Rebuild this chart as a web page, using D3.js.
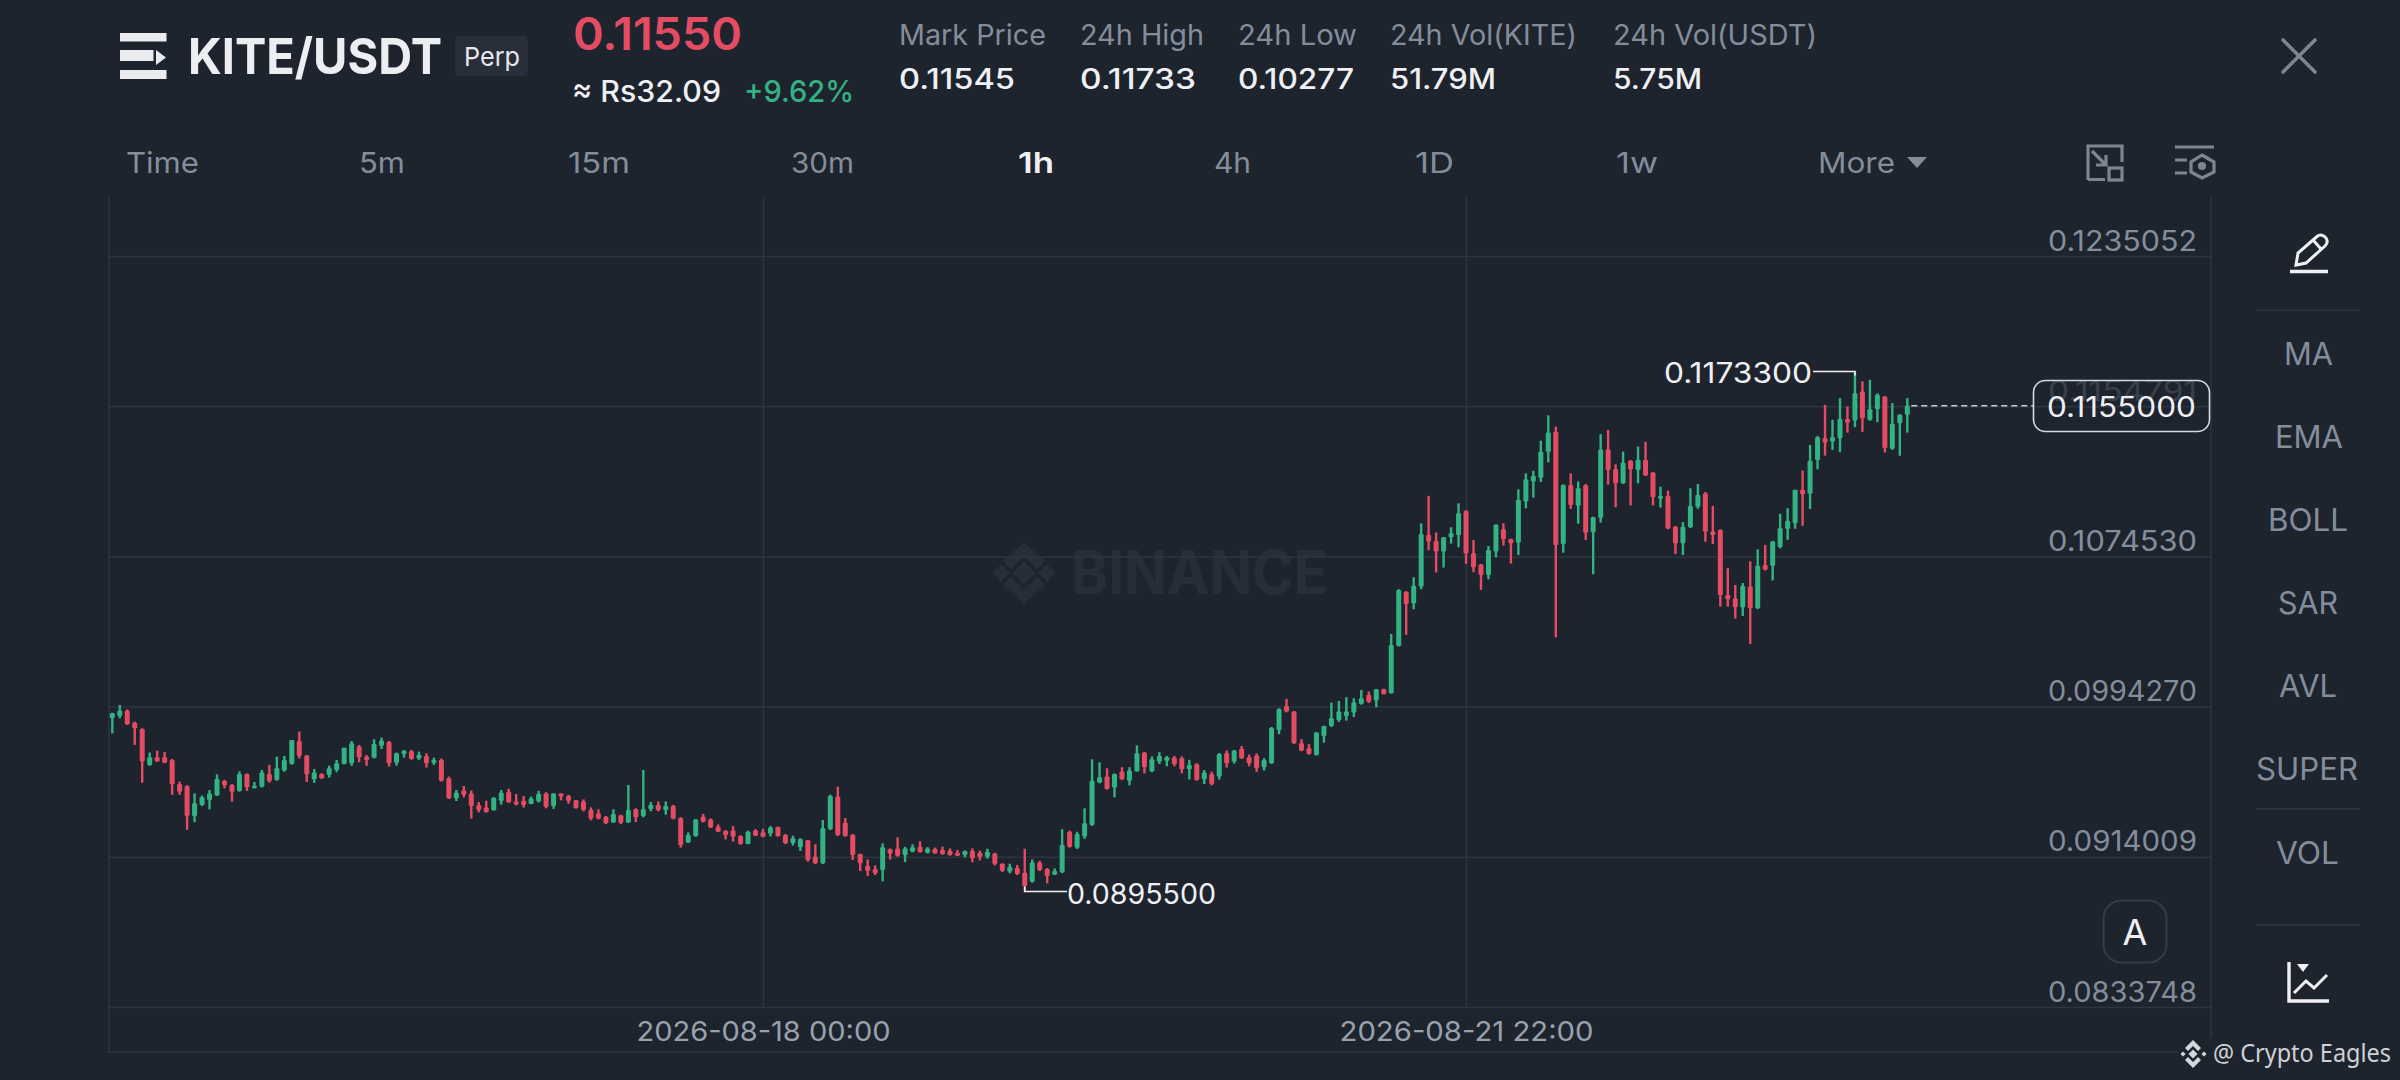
<!DOCTYPE html>
<html><head><meta charset="utf-8">
<script src="https://d3js.org/d3.v7.min.js"></script>
<style>html,body{margin:0;padding:0;background:#1e242e;overflow:hidden}svg{display:block}</style>
</head><body><svg id="c" width="2400" height="1080"></svg>
<script>
// ---------- data ----------
const opens=[
0.09882,0.09893,0.09921,0.09857,0.09823,0.09631,0.09672,0.09672,0.09658,0.09529,
0.09519,0.09358,0.09417,0.09444,0.09467,0.09545,0.09524,0.09492,0.09583,0.09506,
0.09515,0.09583,0.09551,0.09601,0.09636,0.09759,0.09682,0.09554,0.09583,0.09577,
0.09604,0.09636,0.09640,0.09729,0.09675,0.09670,0.09734,0.09754,0.09643,0.09690,
0.09704,0.09666,0.09679,0.09643,0.09658,0.09560,0.09453,0.09494,0.09479,0.09415,
0.09403,0.09389,0.09440,0.09487,0.09435,0.09440,0.09422,0.09437,0.09479,0.09412,
0.09478,0.09465,0.09442,0.09435,0.09390,0.09372,0.09354,0.09324,0.09362,0.09324,
0.09394,0.09358,0.09395,0.09417,0.09390,0.09413,0.09347,0.09217,0.09251,0.09354,
0.09340,0.09301,0.09278,0.09280,0.09251,0.09208,0.09280,0.09271,0.09265,0.09299,
0.09256,0.09212,0.09191,0.09228,0.09141,0.09105,0.09287,0.09461,0.09322,0.09258,
0.09155,0.09091,0.09073,0.09069,0.09180,0.09185,0.09150,0.09167,0.09194,0.09162,
0.09182,0.09176,0.09173,0.09162,0.09150,0.09171,0.09162,0.09141,0.09158,0.09103,
0.09061,0.09080,0.09055,0.09007,0.09109,0.09075,0.09046,0.09057,0.09274,0.09189,
0.09248,0.09310,0.09537,0.09569,0.09510,0.09595,0.09547,0.09597,0.09697,0.09597,
0.09649,0.09654,0.09670,0.09667,0.09608,0.09635,0.09554,0.09583,0.09569,0.09693,
0.09649,0.09718,0.09672,0.09681,0.09619,0.09640,0.09818,0.09946,0.09916,0.09747,
0.09720,0.09684,0.09786,0.09839,0.09871,0.09893,0.09911,0.09957,0.10005,0.09975,
0.10035,0.10014,0.10267,0.10557,0.10495,0.10584,0.10860,0.10828,0.10771,0.10848,
0.10860,0.10988,0.10762,0.10702,0.10646,0.10771,0.10890,0.10837,0.10819,0.11038,
0.11145,0.11166,0.11305,0.11412,0.10812,0.11127,0.11016,0.11125,0.10874,0.10952,
0.11317,0.11211,0.11136,0.11257,0.11207,0.11260,0.11193,0.11054,0.11068,0.10904,
0.10815,0.10901,0.11011,0.11082,0.10878,0.10886,0.10539,0.10521,0.10473,0.10584,
0.10468,0.10700,0.10695,0.10795,0.10893,0.10923,0.11101,0.11080,0.11261,0.11377,
0.11359,0.11377,0.11479,0.11471,0.11626,0.11475,0.11532,0.11600,0.11320,0.11457,
0.11502];
const highs=[
0.09910,0.09951,0.09928,0.09862,0.09827,0.09697,0.09707,0.09700,0.09663,0.09542,
0.09522,0.09479,0.09467,0.09497,0.09581,0.09551,0.09529,0.09597,0.09586,0.09540,
0.09604,0.09631,0.09675,0.09679,0.09764,0.09809,0.09684,0.09609,0.09586,0.09627,
0.09658,0.09723,0.09759,0.09738,0.09684,0.09768,0.09777,0.09759,0.09697,0.09711,
0.09711,0.09702,0.09693,0.09670,0.09665,0.09569,0.09497,0.09519,0.09494,0.09433,
0.09440,0.09458,0.09497,0.09504,0.09476,0.09465,0.09462,0.09492,0.09485,0.09479,
0.09479,0.09471,0.09444,0.09447,0.09404,0.09394,0.09358,0.09394,0.09365,0.09524,
0.09399,0.09604,0.09433,0.09436,0.09436,0.09417,0.09351,0.09271,0.09342,0.09369,
0.09345,0.09313,0.09283,0.09304,0.09255,0.09280,0.09288,0.09290,0.09304,0.09301,
0.09262,0.09253,0.09239,0.09230,0.09207,0.09337,0.09472,0.09515,0.09347,0.09262,
0.09157,0.09126,0.09094,0.09212,0.09185,0.09244,0.09194,0.09207,0.09223,0.09192,
0.09189,0.09194,0.09185,0.09176,0.09174,0.09185,0.09173,0.09183,0.09162,0.09105,
0.09103,0.09096,0.09183,0.09126,0.09119,0.09080,0.09078,0.09287,0.09280,0.09274,
0.09399,0.09661,0.09645,0.09613,0.09586,0.09619,0.09619,0.09736,0.09700,0.09676,
0.09699,0.09679,0.09679,0.09677,0.09658,0.09640,0.09604,0.09595,0.09695,0.09708,
0.09711,0.09732,0.09686,0.09693,0.09667,0.09834,0.09934,0.09984,0.09919,0.09768,
0.09743,0.09806,0.09841,0.09964,0.09973,0.09993,0.09987,0.10032,0.10023,0.10037,
0.10039,0.10331,0.10570,0.10559,0.10634,0.10922,0.11069,0.10873,0.10848,0.10901,
0.11029,0.10992,0.10833,0.10705,0.10801,0.10917,0.10922,0.10840,0.11104,0.11189,
0.11203,0.11364,0.11499,0.11439,0.11130,0.11189,0.11146,0.11132,0.10958,0.11398,
0.11421,0.11237,0.11305,0.11260,0.11332,0.11358,0.11195,0.11118,0.11097,0.10908,
0.10929,0.11109,0.11132,0.11089,0.11015,0.10890,0.10682,0.10593,0.10603,0.10719,
0.10783,0.10807,0.10828,0.10973,0.11003,0.11101,0.11204,0.11341,0.11388,0.11555,
0.11475,0.11591,0.11546,0.11733,0.11680,0.11689,0.11617,0.11603,0.11564,0.11505,
0.11591];
const lows=[
0.09800,0.09880,0.09845,0.09738,0.09536,0.09626,0.09649,0.09640,0.09471,0.09471,
0.09284,0.09325,0.09412,0.09394,0.09465,0.09506,0.09435,0.09488,0.09492,0.09506,
0.09510,0.09536,0.09547,0.09595,0.09633,0.09665,0.09540,0.09535,0.09556,0.09563,
0.09592,0.09634,0.09626,0.09645,0.09626,0.09666,0.09716,0.09622,0.09627,0.09670,
0.09659,0.09658,0.09617,0.09631,0.09542,0.09449,0.09438,0.09458,0.09344,0.09378,
0.09376,0.09387,0.09419,0.09428,0.09415,0.09403,0.09421,0.09430,0.09399,0.09396,
0.09442,0.09424,0.09398,0.09383,0.09335,0.09340,0.09315,0.09322,0.09315,0.09321,
0.09326,0.09351,0.09383,0.09383,0.09365,0.09340,0.09189,0.09214,0.09247,0.09324,
0.09294,0.09272,0.09233,0.09221,0.09205,0.09207,0.09251,0.09244,0.09249,0.09247,
0.09208,0.09201,0.09171,0.09114,0.09101,0.09101,0.09283,0.09251,0.09247,0.09123,
0.09064,0.09037,0.09043,0.09009,0.09125,0.09141,0.09112,0.09164,0.09162,0.09158,
0.09157,0.09151,0.09146,0.09144,0.09137,0.09110,0.09121,0.09130,0.09094,0.09059,
0.09052,0.09043,0.08955,0.09002,0.09064,0.08998,0.09043,0.09053,0.09189,0.09182,
0.09236,0.09305,0.09533,0.09499,0.09458,0.09551,0.09522,0.09595,0.09586,0.09592,
0.09636,0.09624,0.09624,0.09586,0.09553,0.09547,0.09529,0.09522,0.09553,0.09617,
0.09638,0.09663,0.09624,0.09594,0.09601,0.09636,0.09795,0.09912,0.09743,0.09704,
0.09686,0.09681,0.09750,0.09834,0.09861,0.09868,0.09887,0.09953,0.09962,0.09939,
0.10007,0.10012,0.10264,0.10326,0.10463,0.10570,0.10778,0.10659,0.10686,0.10814,
0.10794,0.10705,0.10661,0.10566,0.10623,0.10741,0.10803,0.10707,0.10753,0.11002,
0.11059,0.11143,0.11248,0.10313,0.10765,0.10999,0.10920,0.10833,0.10650,0.10926,
0.11129,0.11008,0.11132,0.11018,0.11136,0.11175,0.11018,0.11006,0.10890,0.10758,
0.10753,0.10897,0.11000,0.10824,0.10812,0.10477,0.10477,0.10413,0.10427,0.10277,
0.10464,0.10670,0.10617,0.10788,0.10834,0.10893,0.10909,0.10998,0.11211,0.11284,
0.11315,0.11302,0.11407,0.11436,0.11411,0.11470,0.11463,0.11300,0.11315,0.11283,
0.11407];
const closes=[
0.09907,0.09921,0.09848,0.09827,0.09649,0.09672,0.09649,0.09643,0.09528,0.09488,
0.09360,0.09426,0.09458,0.09479,0.09556,0.09522,0.09488,0.09583,0.09512,0.09519,
0.09590,0.09545,0.09613,0.09658,0.09764,0.09679,0.09581,0.09590,0.09560,0.09613,
0.09640,0.09723,0.09747,0.09672,0.09658,0.09743,0.09761,0.09640,0.09693,0.09707,
0.09663,0.09684,0.09640,0.09658,0.09547,0.09453,0.09483,0.09471,0.09412,0.09390,
0.09380,0.09456,0.09483,0.09431,0.09421,0.09417,0.09451,0.09476,0.09408,0.09478,
0.09462,0.09440,0.09399,0.09390,0.09345,0.09345,0.09319,0.09369,0.09322,0.09390,
0.09351,0.09394,0.09417,0.09390,0.09411,0.09344,0.09203,0.09256,0.09340,0.09328,
0.09297,0.09274,0.09256,0.09247,0.09208,0.09274,0.09253,0.09247,0.09297,0.09251,
0.09212,0.09239,0.09235,0.09123,0.09105,0.09292,0.09465,0.09256,0.09251,0.09150,
0.09105,0.09066,0.09052,0.09191,0.09158,0.09146,0.09185,0.09191,0.09166,0.09185,
0.09158,0.09155,0.09150,0.09146,0.09171,0.09132,0.09141,0.09166,0.09101,0.09066,
0.09087,0.09048,0.08984,0.09109,0.09069,0.09037,0.09064,0.09203,0.09194,0.09262,
0.09319,0.09547,0.09565,0.09503,0.09583,0.09554,0.09601,0.09693,0.09619,0.09661,
0.09679,0.09672,0.09636,0.09608,0.09631,0.09551,0.09590,0.09529,0.09690,0.09640,
0.09708,0.09667,0.09640,0.09613,0.09658,0.09829,0.09930,0.09916,0.09747,0.09708,
0.09690,0.09804,0.09839,0.09880,0.09916,0.09916,0.09964,0.09987,0.09969,0.10035,
0.10010,0.10272,0.10566,0.10491,0.10588,0.10865,0.10825,0.10771,0.10848,0.10869,
0.10976,0.10762,0.10687,0.10646,0.10780,0.10914,0.10837,0.10815,0.11047,0.11157,
0.11175,0.11305,0.11408,0.10806,0.11127,0.11020,0.11109,0.10872,0.10954,0.11317,
0.11207,0.11136,0.11246,0.11211,0.11260,0.11178,0.11061,0.11068,0.10894,0.10815,
0.10904,0.11015,0.11073,0.10878,0.10860,0.10539,0.10516,0.10473,0.10587,0.10468,
0.10696,0.10674,0.10825,0.10896,0.10935,0.11101,0.11078,0.11256,0.11382,0.11354,
0.11382,0.11479,0.11461,0.11617,0.11484,0.11532,0.11609,0.11324,0.11454,0.11502,
0.11550];
const priceTicks=[0.1235052,0.1154791,0.1074530,0.0994270,0.0914009,0.0833748];
const dateTicks=["2026-08-18T00:00:00Z","2026-08-21T22:00:00Z"];
const firstCandle="2026-08-14T09:00:00Z";
const lastPrice=0.1155, lowPrice=0.08955, highPrice=0.11733;
const timeframes=["Time","5m","15m","30m","1h","4h","1D","1w","More"];
const indicators=["MA","EMA","BOLL","SAR","AVL","SUPER","VOL"];
const statLabels=["Mark Price","24h High","24h Low","24h Vol(KITE)","24h Vol(USDT)"];
const statValues=["0.11545","0.11733","0.10277","51.79M","5.75M"];

// ---------- setup ----------
const BG="#1e242e",GRID="#2f3540",GREY="#848d9b",WHITE="#eef0f3",UP="#33b283",DOWN="#e34c63";
const FONT="Inter, Lato, sans-serif";
const svg=d3.select("#c");
const t0=new Date(firstCandle);
const times=opens.map((_,i)=>d3.utcHour.offset(t0,i));
const x=d3.scaleUtc().domain([times[0],times[times.length-1]]).range([112.3,1907.3]);
const y=d3.scaleLinear().domain([priceTicks[5],priceTicks[0]]).range([1007,256]);
const PL=109,PR=2211,PT=197,PB=1052;

function txt(s,x0,x1,base,size,color,weight,font){
  return svg.append("text").text(s).attr("x",x0).attr("y",base)
   .attr("textLength",x1-x0).attr("lengthAdjust","spacingAndGlyphs")
   .attr("font-size",size).attr("fill",color).attr("font-weight",weight||400)
   .attr("font-family",font||FONT);
}

// frame
svg.append("path").attr("d",`M${PL} ${PT}V${PB}H${PR}M${PR} ${PT}V${PB}`).attr("stroke",GRID).attr("stroke-width",1.5).attr("fill","none");

// watermark
const wm=svg.append("g").attr("fill","#282e39");
[[1024,573,9],[1001,573,7],[1047,573,7]].forEach(([a,b,r])=>{
  wm.append("path").attr("d",`M${a} ${b-r*1.25}L${a+r*1.25} ${b}L${a} ${b+r*1.25}L${a-r*1.25} ${b}Z`);
});
wm.append("path").attr("d","M1024 542L1045 561L1037 569L1024 557L1011 569L1003 561Z M1024 604L1003 585L1011 577L1024 589L1037 577L1045 585Z");
txt("BINANCE",1071,1328,594,60,"#282e39",700);

// axes
const yAxis=d3.axisLeft(y).tickValues(priceTicks).tickSize(PR-PL).tickFormat(d3.format(".7f"));
const ya=svg.append("g").attr("transform",`translate(${PR},0)`).call(yAxis);
ya.select(".domain").remove();
ya.selectAll("line").attr("stroke",GRID).attr("stroke-width",1.5);
ya.selectAll("text").attr("x",-14).attr("dy",0).attr("y",-6).attr("text-anchor","end")
  .attr("font-size",28).attr("font-family",FONT).attr("fill",GREY)
  .attr("textLength",149).attr("lengthAdjust","spacingAndGlyphs");
ya.selectAll(".tick").filter(d=>d===priceTicks[1]).select("text").attr("fill","#39404c");

const fmtDate=d3.utcFormat("%Y-%m-%d %H:%M");
const xAxis=d3.axisBottom(x).tickValues(dateTicks.map(d=>new Date(d))).tickSize(1007-PT).tickFormat(fmtDate);
const xa=svg.append("g").attr("transform",`translate(0,${PT})`).call(xAxis);
xa.select(".domain").remove();
xa.selectAll("line").attr("stroke",GRID).attr("stroke-width",1.5);
xa.selectAll("text").attr("y",1041-PT).attr("dy",0).attr("text-anchor","middle")
  .attr("font-size",27).attr("font-family",FONT).attr("fill","#99a1ad")
  .attr("textLength",254).attr("lengthAdjust","spacingAndGlyphs");

// candles
const idx=d3.range(opens.length);
const col=i=>closes[i]>=opens[i]?UP:DOWN;
const cg=svg.append("g");
cg.selectAll("line.w").data(idx).join("line").attr("class","w")
  .attr("x1",i=>x(times[i])).attr("x2",i=>x(times[i]))
  .attr("y1",i=>y(highs[i])).attr("y2",i=>y(lows[i]))
  .attr("stroke",col).attr("stroke-width",2.4);
cg.selectAll("rect.b").data(idx).join("rect").attr("class","b")
  .attr("x",i=>x(times[i])-2.5).attr("width",5)
  .attr("y",i=>y(Math.max(opens[i],closes[i])))
  .attr("height",i=>Math.max(1.5,y(Math.min(opens[i],closes[i]))-y(Math.max(opens[i],closes[i]))))
  .attr("rx",1).attr("fill",col);

// high / low callouts
const iHigh=highs.indexOf(highPrice), iLow=lows.indexOf(lowPrice);
svg.append("path").attr("d",`M${x(times[iHigh])} ${y(highPrice)+4}V${y(highPrice)}H1813`).attr("fill","none").attr("stroke",WHITE).attr("stroke-width",1.6);
txt(d3.format(".7f")(highPrice),1664,1812,383,28,WHITE);
svg.append("path").attr("d",`M${x(times[iLow])} ${y(lowPrice)-5}V${y(lowPrice)}H1067`).attr("fill","none").attr("stroke",WHITE).attr("stroke-width",1.6);
txt(d3.format(".7f")(lowPrice),1067,1216,904,28,WHITE);

// last price
svg.append("line").attr("x1",x(times[240])+4).attr("x2",2033).attr("y1",y(lastPrice)).attr("y2",y(lastPrice))
  .attr("stroke","#c9ced5").attr("stroke-width",1.5).attr("stroke-dasharray","6 4");
svg.append("rect").attr("x",2033.5).attr("y",380.5).attr("width",176).attr("height",51).attr("rx",12)
  .attr("fill","none").attr("stroke","#d5d9df").attr("stroke-width",1.6);
txt(d3.format(".7f")(lastPrice),2047,2196,417,28,WHITE);

// header
svg.append("path").attr("fill","#e9ebef").attr("d","M120 33H166.5V41.5H120Z M120 50H153.5V61H120Z M120 70H166.5V79H120Z M156 50L166 57.5L156 65Z");
txt("KITE/USDT",188,442,74,50,"#eceef2",700);
svg.append("rect").attr("x",455).attr("y",36).attr("width",73).attr("height",40).attr("rx",5).attr("fill","#282e3a");
txt("Perp",464,520,66,26,"#e6e8ec");
txt("0.11550",573,742,50,45,"#e34c63",600);
txt("≈ Rs32.09",572,721,102,30,WHITE,500);
txt("+9.62%",744,854,102,30,"#33b283",500);

const statX=[[899,1046],[1080,1204],[1238,1357],[1390,1577],[1613,1817]];
const valX=[[899,1015],[1080,1196],[1238,1354],[1390,1496],[1613,1702]];
statLabels.forEach((s,i)=>txt(s,statX[i][0],statX[i][1],45,28,GREY));
statValues.forEach((s,i)=>txt(s,valX[i][0],valX[i][1],89,28,WHITE,500));

const tabX=[[126,199],[359,405],[568,630],[791,854],[1018,1054],[1214,1251],[1415,1454],[1616,1658],[1818,1895]];
timeframes.forEach((s,i)=>txt(s,tabX[i][0],tabX[i][1],173,29,s==="1h"?WHITE:GREY,s==="1h"?600:400));
svg.append("path").attr("d","M1907 157H1927L1917 168Z").attr("fill",GREY);

// toolbar icons
svg.append("g").attr("fill","none").attr("stroke","#7c8592").attr("stroke-width",3.2)
  .call(g=>{
    g.append("path").attr("d","M2283 40L2315 72M2315 40L2283 72").attr("stroke-linecap","round").attr("stroke-width",3.6);
    g.append("path").attr("d","M2088 180V146H2122V162M2088 179.5H2105M2092 151L2106 165M2106 155V165H2096");
    g.append("rect").attr("x",2109).attr("y",168).attr("width",13).attr("height",12);
    g.append("path").attr("d","M2175 147H2214M2175 160H2187M2175 173H2187");
    g.append("path").attr("d","M2202 155L2214 162V172L2202 178L2191 172V162Z");
    g.append("circle").attr("cx",2202).attr("cy",166).attr("r",2.5).attr("fill","#7c8592");
  });

// right rail
svg.append("g").attr("stroke",GRID).attr("stroke-width",1.5).selectAll("line")
  .data([310,809,925]).join("line").attr("x1",2256).attr("x2",2360).attr("y1",d=>d).attr("y2",d=>d);
const railX=[[2284,2333],[2275,2343],[2268,2348],[2278,2338],[2279,2337],[2256,2358],[2276,2339]];
const railY=[365,448,531,614,697,780,864];
indicators.forEach((s,i)=>txt(s,railX[i][0],railX[i][1],railY[i],31,GREY));

svg.append("g").attr("fill","none").attr("stroke","#eef0f3").attr("stroke-width",3).call(g=>{
  g.append("path").attr("d","M2290 271.5H2328").attr("stroke-width",3.6);
  g.append("path").attr("d","M2296 265L2298 253L2317 236.5C2320 234 2324 235 2326 238C2328 241 2327 244 2325 246L2306 263Z M2313 240L2322 250");
  g.append("path").attr("d","M2289 962V1001H2329").attr("stroke-width",3.4);
  g.append("path").attr("d","M2294 993L2306 981L2314 988L2327 975").attr("stroke-width",3);
  g.append("path").attr("d","M2297 964H2309L2303 972Z").attr("fill","#eef0f3").attr("stroke","none");
});

// auto button
svg.append("rect").attr("x",2103.5).attr("y",900.5).attr("width",63).attr("height",62).attr("rx",18).attr("fill",BG).attr("stroke","#353c48").attr("stroke-width",2);
svg.append("text").text("A").attr("x",2135).attr("y",945).attr("text-anchor","middle").attr("font-size",36).attr("font-family",FONT).attr("fill",WHITE);

// attribution
svg.append("rect").attr("x",2178).attr("y",1038).attr("width",222).attr("height",42).attr("fill",BG);
const lg=svg.append("g").attr("fill","#d4d7dc");
[[2193,1054,4.5],[2183,1054,2.6],[2204,1054,2.6]].forEach(([a,b,r])=>lg.append("path").attr("d",`M${a} ${b-r}L${a+r} ${b}L${a} ${b+r}L${a-r} ${b}Z`));
lg.append("path").attr("d","M2193 1040L2201 1048L2198 1051L2193 1046L2188 1051L2185 1048Z M2193 1068L2185 1060L2188 1057L2193 1062L2198 1057L2201 1060Z");
txt("@ Crypto Eagles",2213,2391,1062,26,"#cdd1d6",400,"'Noto Sans', sans-serif");
</script></body></html>
